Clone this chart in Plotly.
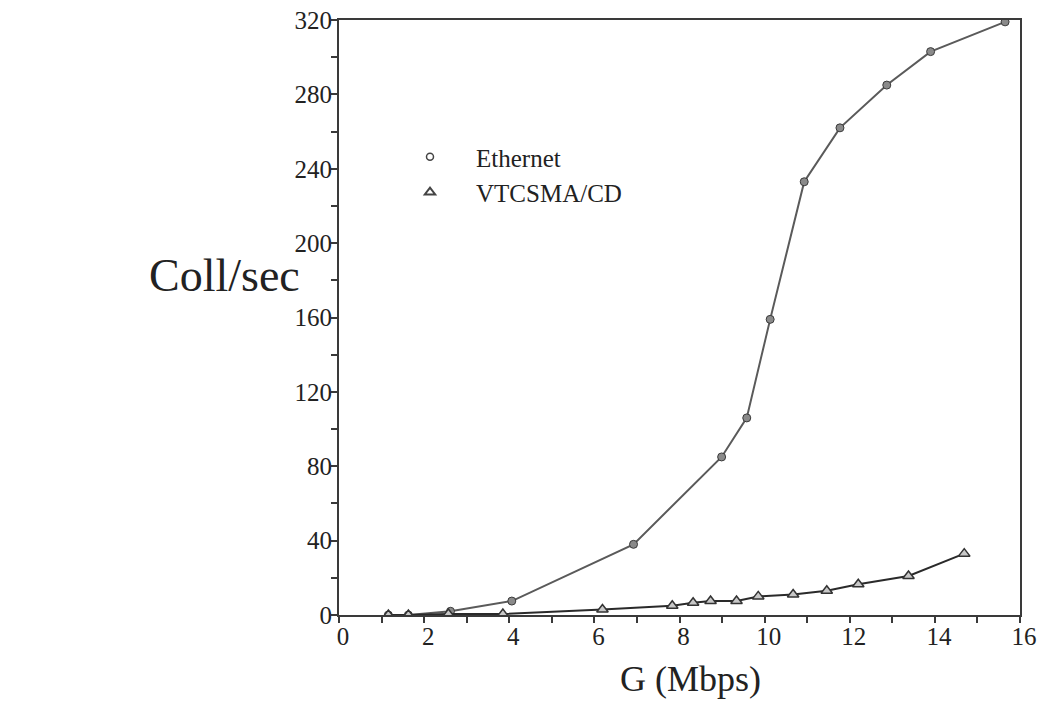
import plotly.graph_objects as go

# Data
eth_x = [1.16, 1.63, 2.62, 4.06, 6.92, 8.99, 9.58, 10.13, 10.93, 11.77, 12.87, 13.9, 15.65]
eth_y = [0, 0, 2, 7.5, 38, 85, 106, 159, 233, 262, 285, 303, 319]

vt_x = [1.16, 1.63, 2.57, 3.85, 6.19, 7.83, 8.32, 8.73, 9.34, 9.85, 10.67, 11.46, 12.2, 13.38, 14.69]
vt_y = [0, 0, 0.5, 0.5, 3, 5, 6.6, 7.5, 7.5, 10, 11, 13, 16.5, 21, 33]

x_ticks = [0, 2, 4, 6, 8, 10, 12, 14, 16]
y_ticks = [0, 40, 80, 120, 160, 200, 240, 280, 320]

FONT = "Liberation Serif, Times New Roman, serif"
INK = "#3a3a3a"

eth_marker = dict(symbol="circle", size=8, color="#8a8a8a", line=dict(color="#3a3a3a", width=1))
vt_marker = dict(symbol="triangle-up", size=10, color="#c8c8c8", line=dict(color="#333333", width=1.5))

fig = go.Figure()
fig.add_trace(go.Scatter(
    x=eth_x, y=eth_y, mode="lines+markers", name="Ethernet", showlegend=False,
    line=dict(color="#5a5a5a", width=2), marker=eth_marker,
))
fig.add_trace(go.Scatter(
    x=vt_x, y=vt_y, mode="lines+markers", name="VTCSMA/CD", showlegend=False,
    line=dict(color="#2a2a2a", width=2), marker=vt_marker,
))
# legend entries (markers only, as in the reference)
fig.add_trace(go.Scatter(x=[None], y=[None], mode="markers", name="Ethernet",
                         marker=dict(symbol="circle-open", size=7, color="#444", line=dict(width=1.5))))
fig.add_trace(go.Scatter(x=[None], y=[None], mode="markers", name="VTCSMA/CD",
                         marker=dict(symbol="triangle-up-open", size=9, color="#444", line=dict(width=2))))

axis_common = dict(
    showline=True, linecolor=INK, linewidth=2, mirror=True,
    showgrid=False, zeroline=False,
    ticks="outside", tickcolor=INK, tickwidth=1.5, ticklen=6,
    tickfont=dict(family=FONT, size=25, color="#222"),
)

fig.update_xaxes(
    range=[0, 16], tickvals=x_ticks, ticktext=[str(v) for v in x_ticks],
    minor=dict(dtick=1, tick0=0, ticks="outside", ticklen=6, tickcolor=INK, tickwidth=1.5),
    ticklabelshift=4, ticklabelstandoff=-8,
    **axis_common,
)
fig.update_yaxes(
    range=[0, 320], tickvals=y_ticks, ticktext=[str(v) for v in y_ticks],
    minor=dict(dtick=20, tick0=0, ticks="outside", ticklen=6, tickcolor=INK, tickwidth=1.5),
    ticklabelstandoff=-6,
    **axis_common,
)

fig.add_annotation(
    text="G (Mbps)", xref="paper", yref="paper", x=(690 - 339) / 681, y=(615 - 679) / 595,
    xanchor="center", yanchor="middle", showarrow=False,
    font=dict(family=FONT, size=36, color="#222"),
)
fig.add_annotation(
    text="Coll/sec", xref="paper", yref="paper", x=(224 - 339) / 681, y=(615 - 275) / 595,
    xanchor="center", yanchor="middle", showarrow=False,
    font=dict(family=FONT, size=46, color="#222"),
)

fig.update_layout(
    width=1047, height=702,
    margin=dict(l=339, r=27, t=20, b=87, autoexpand=False),
    plot_bgcolor="white", paper_bgcolor="white",
    showlegend=True,
    legend=dict(
        x=(384 - 339) / 681, y=(615 - 134) / 595,
        xanchor="left", yanchor="top",
        font=dict(family=FONT, size=25, color="#222"),
        itemwidth=82, bgcolor="rgba(0,0,0,0)",
    ),
)

fig.write_html("out.html")
